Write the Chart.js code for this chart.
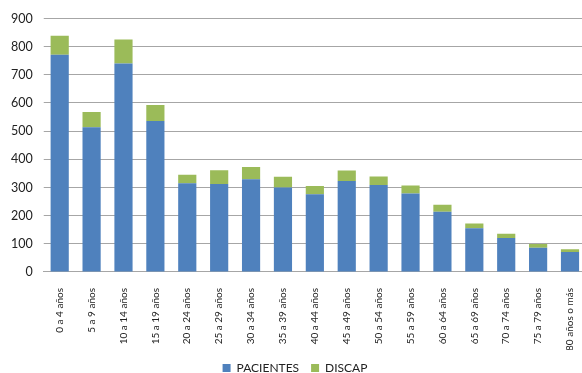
<!DOCTYPE html>
<html lang="es">
  <head>
    <meta charset="UTF-8" />
    <title>Pacientes y discapacidad por edad</title>
    <script src="https://cdn.jsdelivr.net/npm/chart.js"></script>
    <style>
      body {
        margin: 0;
        overflow: hidden;
        background: #fff;
      }
      .wrap {
        width: 590px;
        height: 378px;
      }
    </style>
  </head>
  <body>
    <div class="wrap">
      <canvas id="chart"></canvas>
    </div>

    <script>
      const categories = [
        "0 a 4 años", "5 a 9 años", "10 a 14 años", "15 a 19 años",
        "20 a 24 años", "25 a 29 años", "30 a 34 años", "35 a 39 años",
        "40 a 44 años", "45 a 49 años", "50 a 54 años", "55 a 59 años",
        "60 a 64 años", "65 a 69 años", "70 a 74 años", "75 a 79 años",
        "80 años o más",
      ];
      const pacientes = [771, 514, 740, 536, 315, 312, 329, 300, 276, 323, 309, 279, 214, 155, 121, 86, 71];
      const discap = [68, 54, 85, 57, 30, 49, 44, 38, 29, 37, 30, 28, 25, 17, 15, 13, 10];
      const yTicks = [0, 100, 200, 300, 400, 500, 600, 700, 800, 900];

      const font = "Lato, 'Open Sans', sans-serif";

      new Chart(document.getElementById("chart").getContext("2d"), {
        type: "bar",
        data: {
          labels: categories,
          datasets: [
            {
              label: "PACIENTES",
              data: pacientes,
              backgroundColor: "#4f81bd",
              barPercentage: 0.57,
              categoryPercentage: 1,
            },
            {
              label: "DISCAP",
              data: discap,
              backgroundColor: "#9bbb59",
              barPercentage: 0.57,
              categoryPercentage: 1,
            },
          ],
        },
        options: {
          responsive: true,
          maintainAspectRatio: false,
          animation: false,
          layout: { padding: { top: 12, left: 0, right: 0, bottom: 0 } },
          plugins: {
            legend: {
              position: "bottom",
              maxHeight: 28,
              labels: {
                color: "#222",
                font: { family: font, size: 12 },
                boxWidth: 8,
                boxHeight: 8,
                padding: 12,
              },
            },
            tooltip: { enabled: false },
          },
          scales: {
            x: {
              stacked: true,
              grid: { display: false },
              border: { color: "#a6a6a6", width: 1 },
              ticks: {
                color: "#222",
                font: { family: font, size: 10 },
                minRotation: 90,
                maxRotation: 90,
                padding: 8,
              },
              // the auto height leaves a gap under the rotated labels
              afterFit: (scale) => {
                scale.height -= 9;
              },
            },
            y: {
              stacked: true,
              min: 0,
              max: 900,
              afterBuildTicks: (axis) => {
                axis.ticks = yTicks.map((v) => ({ value: v }));
              },
              grid: {
                color: "#a6a6a6",
                lineWidth: 1,
                tickLength: 0,
              },
              border: { display: false },
              ticks: {
                color: "#222",
                font: { family: font, size: 12.5 },
                padding: 11,
              },
            },
          },
        },
      });
    </script>
  </body>
</html>
